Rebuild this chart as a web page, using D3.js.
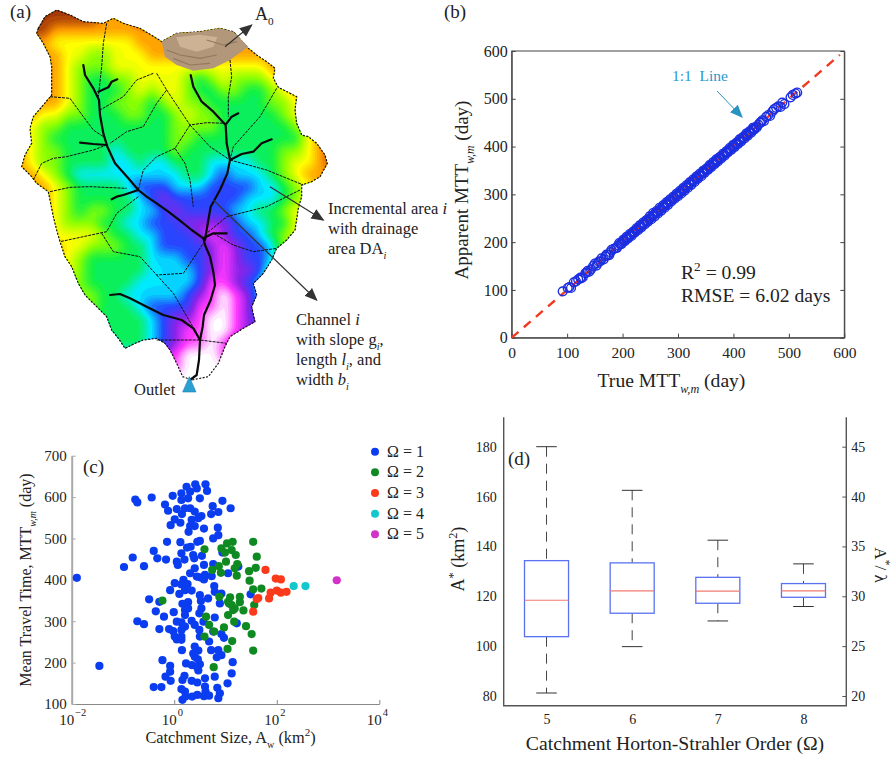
<!DOCTYPE html>
<html>
<head>
<meta charset="utf-8">
<script src="https://d3js.org/d3.v7.min.js"></script>
<style>
  body { margin: 0; background: #fff; }
  svg { display: block; }
  text { font-family: "Liberation Serif", serif; fill: #222; }
  .tick text { font-family: "Liberation Serif", serif; fill: #222; }
</style>
</head>
<body>
<svg id="chart" width="892" height="759"></svg>
<script>
// ---------- panel (a): catchment map, coordinates in map units ----------
const boundary = [[115,85],[135,50],[170,30],[210,45],[250,65],[310,70],[340,55],[370,70],[420,85],[470,115],[485,125],[530,100],[600,95],[660,85],[700,95],[745,145],[770,165],[800,185],[825,205],[820,235],[835,262],[870,280],[890,290],[885,330],[890,370],[905,405],[925,410],[950,430],[975,465],[982,490],[960,530],[935,545],[905,555],[905,590],[895,625],[885,690],[860,720],[830,745],[815,780],[790,820],[760,850],[770,885],[755,920],[765,965],[730,985],[690,1010],[675,1040],[655,1090],[625,1130],[575,1140],[548,1130],[530,1090],[510,1050],[495,1030],[470,1015],[430,1020],[405,1030],[375,1045],[355,1015],[335,990],[320,950],[290,920],[255,885],[235,850],[215,800],[195,770],[180,725],[170,690],[160,650],[150,600],[145,575],[110,550],[95,530],[65,500],[75,465],[95,430],[90,385],[100,350],[130,315],[155,285],[155,240],[155,200],[150,170],[130,130],[110,100]];
const headArea = [[485,125],[530,100],[600,95],[660,85],[700,95],[745,140],[690,180],[640,205],[580,212],[530,195],[495,170]];
const headLight = [[528,112],[600,104],[652,112],[640,140],[590,155],[540,140]];
const headDark = [[[500,150],[540,165],[600,175],[650,165]], [[620,120],[670,135],[710,125]], [[520,175],[570,195],[630,190]]];

// elevation class per grid cell (0 outlet ... 9 ridge), rows 36 map units apart
const elevation = [
  "999999998899888888888888888",
  "999999988899888888888888888",
  "999888888888888888888888888",
  "888777777788888888888888888",
  "888877667778888888888888888",
  "888876667777777777777888888",
  "888876556677776567666788888",
  "888876555676776556655678888",
  "888876556665676655555667888",
  "887766555665567665555567888",
  "776655555555566665555556788",
  "876555555555566555555555789",
  "876655554555565555555566789",
  "876655554454455544445567789",
  "887654444444445543444567888",
  "888765555433344433334456788",
  "888765555543233333344456788",
  "888765665544323333445567777",
  "888766655443332222344557777",
  "888777765544333212334567777",
  "888877666554333321233467777",
  "888876555554443321233467777",
  "777776555554444321223566666",
  "666666555544444311234666666",
  "666666655444443210124666666",
  "666666655543333110124666666",
  "555555555554322100123444444",
  "555555555554321100123444444",
  "555555555554321101233333333",
  "444444444443210001233333333",
  "333333333332110000122222222",
  "111111111110000000011111111",
  "000000000000000000000000000"
];
const elevColors = ["#ffffff","#ff38ff","#8a22e8","#2448ff","#00eaff","#0cf04a","#8cff00","#ffff00","#ff9a00","#a03408"];

const mainChannels = [
  [[570,1140],[590,1125],[597,1080],[600,1020],[608,980],[612,945],[632,900],[645,855],[640,815],[630,770],[615,735],[610,715],[575,690],[540,662],[505,635],[470,610],[440,590],[415,570],[385,535],[345,490],[322,440],[310,400],[300,345],[297,300],[280,265],[255,225],[250,195]],
  [[615,720],[625,660],[632,620],[660,570],[682,520],[690,480],[680,430],[677,375],[640,335],[605,305],[580,260],[572,225]],
  [[600,1020],[580,985],[545,960],[490,945],[440,920],[390,895],[360,882],[330,885]],
  [[295,275],[325,262],[335,245],[352,238]],
  [[320,435],[280,432],[240,428]],
  [[415,570],[370,585],[350,590],[335,598]],
  [[690,480],[725,462],[760,455],[785,430],[815,418]],
  [[680,370],[695,350],[715,340]],
  [[610,715],[640,700],[680,700]]
];
const minorChannels = [
  [[320,70],[310,130],[305,200],[295,290]],
  [[690,180],[695,230],[685,290],[685,350]],
  [[100,540],[125,490],[160,475],[200,470],[280,450],[320,435]],
  [[150,290],[210,295],[250,350],[280,390],[310,410]],
  [[460,220],[410,240],[370,290],[300,330]],
  [[470,220],[500,270],[470,310],[430,380],[380,395],[330,430]],
  [[500,270],[540,330],[570,375],[620,368],[680,370]],
  [[570,375],[525,445],[555,490],[570,540],[580,620]],
  [[570,375],[630,440],[690,480]],
  [[525,445],[470,470],[430,510],[415,570]],
  [[830,265],[780,350],[700,440],[690,480]],
  [[690,480],[800,510],[910,555]],
  [[900,570],[800,620],[680,650],[620,700]],
  [[150,575],[210,562],[270,560],[380,565]],
  [[415,590],[350,640],[320,695],[250,710],[180,725]],
  [[305,700],[340,755],[420,770],[470,825],[550,820],[610,730]],
  [[470,825],[520,880],[590,1000]],
  [[640,700],[700,735],[760,755],[830,745]],
  [[470,1020],[600,1020],[680,1030]]
];

// ---------- panel (b) ----------
const trueMtt = [92,101,104,107,112,116,120,124,128,133,137,140,147,150,153,157,162,166,171,176,180,184,190,194,198,201,204,207,210,213,216,219,222,225,228,231,234,237,240,243,246,249,252,255,258,261,264,267,270,273,276,279,282,285,288,291,294,297,300,303,306,309,312,315,318,321,324,327,330,333,336,339,342,345,348,351,354,357,360,363,366,369,372,375,378,381,384,387,390,393,396,399,402,405,408,411,414,417,420,423,426,429,432,435,438,442,448,452,455,459,463,466,470,473,477,481,485,488,492,503,507,512,515];
const apparentMtt = [97,104,106,104,116,118,122,126,126,135,140,138,150,155,151,159,166,164,174,173,184,186,188,198,196,205,202,211,208,217,213,222,220,229,225,235,231,241,237,246,243,254,248,261,254,265,260,272,266,277,272,283,278,289,285,295,291,301,296,307,302,313,308,319,314,325,320,331,326,337,333,343,338,349,345,354,351,361,357,367,363,373,369,378,375,385,381,390,388,397,393,403,399,408,405,415,411,420,417,427,423,432,429,439,436,440,450,455,453,462,466,464,473,478,481,484,483,492,489,503,508,511,513];
// second batch of catchments, the dense middle of the cloud
const trueMttMid = [125,135,143,155,160,169,174,178,187,192,196,200,203,206,209,212,215,218,221,224,227,230,233,236,239,242,245,248,251,254,257,260,263,266,269,272,275,278,281,284,287,290,293,296,299,302,305,308,311,314,317,320,323,326,329,332,335,338,341,344,347,350,353,356,359,362,365,368,371,374,377,380,383,386,389,392,395,398,401,404,407,410,413,416,419,422,425,428,431,434,437,440,445,450];
const apparentMttMid = [124,136,143,156,160,170,174,179,187,193,196,201,203,207,209,213,215,219,221,225,227,231,233,237,239,243,245,249,251,255,258,261,263,267,269,273,275,279,281,285,287,291,293,297,299,303,305,309,311,315,317,321,323,327,329,333,335,339,341,345,347,351,353,357,359,363,365,369,371,375,377,381,383,387,389,393,395,399,401,405,407,411,413,417,419,423,425,429,431,435,437,441,446,451];

// ---------- panel (c): log10 of catchment size and mean travel time ----------
const order1LogA = [-1.90,-1.46,-.98,-.81,-.59,-.40,-.33,-.16,-.76,-.72,-.44,-.03,-.18,-.12,.05,.01,-.07,.12,.15,.24,.41,.61,.44,.64,.14,.31,.50,.14,.27,.21,.31,.40,.53,.47,.34,.31,.40,.28,.58,.85,.86,.76,.50,.45,-.14,.12,.32,.25,.75,.94,1.10,.86,.72,.14,.37,.54,.39,.20,.05,.07,.58,.76,.40,.31,.44,.50,.60,.73,.58,1.05,1.25,.94,.18,.01,.14,.26,-.08,.21,.34,.10,.78,.79,.92,.50,.52,.66,-.49,-.29,.89,.27,.16,.53,.27,.21,.49,.21,-.36,-.01,-.20,-.72,-.59,.05,.57,.14,.34,.40,.21,.79,-.29,-.10,-.02,.14,.49,.76,.92,.97,.50,.01,.14,.05,.14,.68,1.22,.40,.47,.37,.15,.72,.86,.40,.92,.83,.46,-.23,.23,1.14,.34,-.08,.50,.44,.47,-.08,1.12,-.17,-.07,.20,.16,.34,.45,.60,.79,1.04,-.40,-.25,.14,.21,.60,.61,.84,.89,.86,.35,.45,.58,.68,.16,.22,1.49];
const order1Mtt = [405,192,431,454,433,470,452,449,594,587,599,603,582,567,571,546,532,538,559,625,631,631,621,615,609,613,597,593,597,573,573,565,554,549,545,530,530,516,524,526,508,500,494,492,492,491,480,478,578,591,573,564,559,464,460,458,452,449,444,436,436,438,428,416,408,406,412,409,401,416,432,466,400,392,389,390,375,375,374,366,385,371,367,363,349,355,353,347,343,346,342,331,331,327,319,315,324,322,311,300,293,299,299,297,301,291,287,309,281,281,276,279,279,275,269,260,263,263,263,256,255,251,295,239,229,222,230,230,230,214,218,213,208,206,198,201,194,192,196,190,181,178,174,166,156,168,158,156,152,162,166,150,141,141,136,130,142,130,139,126,114,118,122,119,120,110,118,365];
const order2LogA = [.59,-.23,.88,1.14,1.03,.92,.99,1.12,1.20,1.01,1.23,1.18,1.22,.91,.74,.87,1.54,1.61,1.59,1.46,1.47,1.54,1.70,1.09,1.28,1.05,1.28,1.12,1.18,1.05,1.35,1.56,.62,.68,.78,.97,1.17,1.40,1.51,1.13,1.04,1.54,.59,.77,1.07,1.15];
const order2Mtt = [474,350,359,492,488,476,466,472,460,444,438,428,410,417,424,433,492,456,429,421,398,377,379,358,359,347,346,339,331,315,326,339,311,291,275,285,299,288,269,252,233,229,263,189,343,327];
const order3LogA = [1.78,1.98,2.08,1.64,1.61,1.54,1.85,1.88,2.00,2.08,2.19];
const order3Mtt = [424,403,401,356,354,323,355,369,374,369,371];
const order4LogA = [2.33,2.56];
const order4Mtt = [385,385];
const order5LogA = [3.17];
const order5Mtt = [399];
const orderColors = ["#0a3cf0","#0f8a22","#fa3a1a","#12c8cc","#d232c8"];

// ---------- panel (d) ----------
const orders = [5,6,7,8];
const whiskerHigh = [180,162.5,142.5,133];
const quartile3 = [134.3,133.4,127.6,125.1];
const medians = [118.4,122.2,122.1,122.2];
const quartile1 = [103.8,113.2,117.2,119.6];
const whiskerLow = [81.2,99.8,110.1,115.9];

const svg = d3.select("#chart");

// text with sub/superscript runs: parts are strings or [string, kind]
function label(parent, x, y, parts, size, opts) {
  opts = opts || {};
  const t = parent.append("text").attr("font-size", size)
    .attr("text-anchor", opts.anchor || "start");
  if (opts.rotate) t.attr("transform", `translate(${x},${y}) rotate(${opts.rotate})`);
  else t.attr("x", x).attr("y", y);
  if (opts.fill) t.style("fill", opts.fill);
  let shift = 0;
  parts.forEach(p => {
    const str = typeof p === "string" ? p : p[0];
    const kind = typeof p === "string" ? "" : p[1];
    let target = 0, fs = size, italic = false;
    if (kind.includes("sub")) { target = size * 0.3; fs = size * 0.62; }
    if (kind.includes("sup")) { target = -size * 0.4; fs = size * 0.68; }
    if (kind.includes("it")) italic = true;
    t.append("tspan").attr("dy", target - shift).attr("font-size", fs)
      .attr("font-style", italic ? "italic" : "normal").text(str);
    shift = target;
  });
  return t;
}

function arrowHead(id, color) {
  svg.append("defs").append("marker").attr("id", id)
    .attr("viewBox", "0 0 10 10").attr("refX", 9).attr("refY", 5)
    .attr("markerUnits", "userSpaceOnUse").attr("markerWidth", 13).attr("markerHeight", 13)
    .attr("orient", "auto")
    .append("path").attr("d", "M0,0.8L10,5L0,9.2Z").attr("fill", color);
}
arrowHead("headDark", "#333");
arrowHead("headBlue", "#2a93c0");

// ---------- panel (a) ----------
const mapX = d3.scaleLinear().domain([0, 1320]).range([0, 440]);
const mapY = d3.scaleLinear().domain([0, 1230]).range([0, 410]);
const mapLine = d3.line().x(d => mapX(d[0])).y(d => mapY(d[1]));
const mapClosed = d3.line().x(d => mapX(d[0])).y(d => mapY(d[1])).curve(d3.curveLinearClosed);

const rows = elevation.length, cols = elevation[0].length, k = 4;
const gw = (cols - 1) * k + 1, gh = (rows - 1) * k + 1;
const field = new Float64Array(gw * gh);
const cell = (c, r) => +elevation[r][c];
for (let v = 0; v < gh; v++) {
  for (let u = 0; u < gw; u++) {
    const c = Math.min(Math.floor(u / k), cols - 2), r = Math.min(Math.floor(v / k), rows - 2);
    const fx = u / k - c, fy = v / k - r;
    field[v * gw + u] = cell(c, r) * (1 - fx) * (1 - fy) + cell(c + 1, r) * fx * (1 - fy)
      + cell(c, r + 1) * (1 - fx) * fy + cell(c + 1, r + 1) * fx * fy;
  }
}
d3.blur2({ data: field, width: gw, height: gh }, 1);

const gridX = d3.scaleLinear().domain([0.5, gw - 0.5]).range([mapX(60), mapX(996)]);
const gridY = d3.scaleLinear().domain([0.5, gh - 0.5]).range([mapY(20), mapY(1172)]);
const gridPath = d3.geoPath(d3.geoTransform({
  point: function(x, y) { this.stream.point(gridX(x), gridY(y)); }
}));
const elevScale = d3.scaleLinear().domain(d3.range(10)).range(elevColors);

svg.append("clipPath").attr("id", "catchment").append("path").attr("d", mapClosed(boundary));
const mapG = svg.append("g").attr("clip-path", "url(#catchment)");
mapG.append("rect").attr("width", 440).attr("height", 410).attr("fill", "#fff");
mapG.selectAll("path.band")
  .data(d3.contours().size([gw, gh]).thresholds(d3.range(0.1, 9.05, 0.15))(Array.from(field)))
  .enter().append("path").attr("class", "band")
  .attr("d", gridPath).attr("fill", d => elevScale(d.value));

svg.append("path").attr("d", mapClosed(boundary)).attr("fill", "none")
  .attr("stroke", "#111").attr("stroke-width", 1.2).attr("stroke-dasharray", "2,1.5");
svg.append("path").attr("d", mapClosed(headArea)).attr("fill", "#b2977b");
svg.append("path").attr("d", mapClosed(headLight)).attr("fill", "#cdb394");
svg.selectAll("path.shade").data(headDark).enter().append("path").attr("class", "shade")
  .attr("d", mapLine).attr("fill", "none").attr("stroke", "#94785c").attr("stroke-width", 1.2);

svg.selectAll("path.minor").data(minorChannels).enter().append("path").attr("class", "minor")
  .attr("d", mapLine).attr("fill", "none").attr("stroke", "#111")
  .attr("stroke-width", 1).attr("stroke-dasharray", "3,1");
svg.selectAll("path.main").data(mainChannels).enter().append("path").attr("class", "main")
  .attr("d", mapLine).attr("fill", "none").attr("stroke", "#0a0a0a")
  .attr("stroke-width", 2.2).attr("stroke-linejoin", "round").attr("stroke-linecap", "round");

svg.append("path").attr("d", mapClosed([[568,1130],[588,1176],[548,1176]])).attr("fill", "#2a9fd2")
  .attr("stroke", "#1b7fb0").attr("stroke-width", 0.6);

[[[675,140],[755,75]], [[810,560],[970,660]], [[640,600],[950,900]]].forEach(a => {
  svg.append("path").attr("d", mapLine(a)).attr("fill", "none").attr("stroke", "#333")
    .attr("stroke-width", 1.2).attr("marker-end", "url(#headDark)");
});

label(svg, 10, 18, ["(a)"], 19);
label(svg, 255, 20, ["A", ["0", "sub"]], 18);
label(svg, 328, 214, ["Incremental area ", ["i", "it"]], 16.5);
label(svg, 328, 234, ["with drainage"], 16.5);
label(svg, 328, 254, ["area DA", ["i", "it sub"]], 16.5);
label(svg, 296, 325, ["Channel ", ["i", "it"]], 16.5);
label(svg, 296, 345, ["with slope g", ["i", "it sub"], ","], 16.5);
label(svg, 296, 365, ["length ", ["l", "it"], ["i", "it sub"], ", and"], 16.5);
label(svg, 296, 385, ["width ", ["b", "it"], ["i", "it sub"]], 16.5);
label(svg, 134, 395, ["Outlet"], 16.5);

// ---------- panel (b) ----------
const bx = d3.scaleLinear().domain([0, 600]).range([511.7, 844.3]);
const by = d3.scaleLinear().domain([0, 600]).range([337.7, 51]);
const gb = svg.append("g");
gb.append("rect").attr("x", bx(0)).attr("y", by(600)).attr("width", bx(600) - bx(0))
  .attr("height", by(0) - by(600)).attr("fill", "none").attr("stroke", "#444").attr("stroke-width", 1);

const styleAxis = (g, color) => {
  g.select(".domain").attr("stroke", color);
  g.selectAll(".tick line").attr("stroke", color);
};
gb.append("g").attr("transform", `translate(0,${by(0)})`)
  .call(d3.axisBottom(bx).tickValues(d3.range(0, 601, 100)).tickFormat(d3.format("d")).tickSizeInner(-4).tickSizeOuter(0).tickPadding(9))
  .call(styleAxis, "#444").selectAll("text").attr("font-size", 15.5);
gb.append("g").attr("transform", `translate(${bx(0)},0)`)
  .call(d3.axisLeft(by).tickValues(d3.range(0, 601, 100)).tickFormat(d3.format("d")).tickSizeInner(-4).tickSizeOuter(0).tickPadding(4))
  .call(styleAxis, "#444").selectAll("text").attr("font-size", 16);
gb.append("g").attr("transform", `translate(${bx(600)},0)`)
  .call(d3.axisRight(by).tickValues(d3.range(0, 601, 100)).tickFormat("").tickSizeInner(-4).tickSizeOuter(0))
  .call(styleAxis, "#444");

gb.append("path").attr("d", d3.line().x(d => bx(d)).y(d => by(d))([0, 592]))
  .attr("stroke", "#f03a22").attr("stroke-width", 2.4).attr("stroke-dasharray", "9,7").attr("fill", "none");
const drawPoints = (xs, ys) => gb.append("g").selectAll("circle").data(xs).enter().append("circle")
  .attr("cx", d => bx(d)).attr("cy", (d, i) => by(ys[i])).attr("r", 4.4)
  .attr("fill", "none").attr("stroke", "#1c2ee0").attr("stroke-width", 1.4);
drawPoints(trueMtt, apparentMtt);
drawPoints(trueMttMid, apparentMttMid);

label(gb, 672, 81, ["1:1\u00a0\u00a0Line"], 15.5, { fill: "#2a97cc" });
gb.append("path").attr("d", d3.line()([[717, 91], [742, 117]])).attr("stroke", "#2a93c0")
  .attr("stroke-width", 1).attr("fill", "none").attr("marker-end", "url(#headBlue)");
label(gb, 681, 279, ["R", ["2", "sup"], " = 0.99"], 19.6);
label(gb, 681, 302, ["RMSE = 6.02 days"], 19.6);
label(gb, 444, 18, ["(b)"], 19);
label(gb, 671.5, 387, ["True MTT", ["w,m", "it sub"], " (day)"], 19.6, { anchor: "middle" });
label(gb, 468, 190, ["Apparent MTT", ["w,m", "it sub"], " (day)"], 19, { anchor: "middle", rotate: -90 });

// ---------- panel (c) ----------
const cx = d3.scaleLog().domain([1e-2, 1e4]).range([71.7, 379.3]);
const cy = d3.scaleLinear().domain([100, 700]).range([704, 455.7]);
const gc = svg.append("g");
const decades = [-2, 0, 2, 4];
gc.append("g").attr("transform", "translate(0,704)")
  .call(d3.axisBottom(cx).tickValues(decades.map(d => Math.pow(10, d))).tickFormat("").tickSizeInner(-4).tickSizeOuter(0))
  .call(styleAxis, "#888");
gc.append("g").attr("transform", "translate(71.7,0)")
  .call(d3.axisLeft(cy).tickValues(d3.range(100, 701, 100)).tickFormat(d3.format("d")).tickSizeInner(-4).tickSizeOuter(0).tickPadding(5))
  .call(styleAxis, "#aaa").call(g => g.select(".domain").attr("stroke-width", 2))
  .selectAll("text").attr("font-size", 15);
decades.forEach(d => {
  label(gc, cx(Math.pow(10, d)) + 2.5, 725, ["10"], 15, { anchor: "end" });
  label(gc, cx(Math.pow(10, d)) + 3.5, 716, [d < 0 ? "\u2212" + (-d) : String(d)], 10.5);
});

[[order1LogA, order1Mtt], [order2LogA, order2Mtt], [order3LogA, order3Mtt], [order4LogA, order4Mtt], [order5LogA, order5Mtt]]
  .forEach((s, j) => {
    gc.append("g").selectAll("circle").data(s[0]).enter().append("circle")
      .attr("cx", d => cx(Math.pow(10, d))).attr("cy", (d, i) => cy(s[1][i]))
      .attr("r", 4.1).attr("fill", orderColors[j]);
  });

const legendY = d3.scalePoint().domain([1, 2, 3, 4, 5]).range([451.7, 534.3]);
legendY.domain().forEach(o => {
  gc.append("circle").attr("cx", 375).attr("cy", legendY(o)).attr("r", 4).attr("fill", orderColors[o - 1]);
  label(gc, 387, legendY(o) + 5, ["\u03a9 = " + o], 16);
});
label(gc, 83, 473, ["(c)"], 19);
label(gc, 230.5, 743, ["Catchment Size, A", ["w", "sub"], " (km", ["2", "sup"], ")"], 16.3, { anchor: "middle" });
label(gc, 31, 580, ["Mean Travel Time, MTT", ["w,m", "it sub"], " (day)"], 16, { anchor: "middle", rotate: -90 });

// ---------- panel (d) ----------
const dx = d3.scaleLinear().domain([4.5, 8.5]).range([503.7, 846.3]);
const dy = d3.scaleLinear().domain([80, 180]).range([696, 446.7]);
const dyRight = d3.scaleLinear().domain([20, 45]).range([696, 446.7]);
const gd = svg.append("g");
gd.append("path").attr("d", `M503.7,417.3V705.7H846.3V417.3`).attr("fill", "none").attr("stroke", "#555").attr("stroke-width", 1.4);
gd.append("g").attr("transform", "translate(503.7,0)")
  .call(d3.axisLeft(dy).tickValues(d3.range(80, 181, 20)).tickFormat(d3.format("d")).tickSizeInner(0).tickSizeOuter(0).tickPadding(7))
  .call(g => g.select(".domain").remove()).selectAll("text").attr("font-size", 14);
gd.append("g").attr("transform", "translate(846.3,0)")
  .call(d3.axisRight(dyRight).tickValues(d3.range(20, 46, 5)).tickFormat(d3.format("d")).tickSizeInner(-4).tickSizeOuter(0).tickPadding(5))
  .call(styleAxis, "#555").call(g => g.select(".domain").remove()).selectAll("text").attr("font-size", 14);
gd.append("g").attr("transform", "translate(0,705.7)")
  .call(d3.axisBottom(dx).tickValues(orders).tickFormat(d3.format("d")).tickSize(0).tickPadding(8))
  .call(g => g.select(".domain").remove()).selectAll("text").attr("font-size", 14);

const boxHalf = 0.257, capHalf = 0.12;
orders.forEach((o, i) => {
  gd.append("line").attr("x1", dx(o)).attr("x2", dx(o)).attr("y1", dy(whiskerHigh[i])).attr("y2", dy(quartile3[i]))
    .attr("stroke", "#444").attr("stroke-width", 1).attr("stroke-dasharray", "10,7");
  gd.append("line").attr("x1", dx(o)).attr("x2", dx(o)).attr("y1", dy(quartile1[i])).attr("y2", dy(whiskerLow[i]))
    .attr("stroke", "#444").attr("stroke-width", 1).attr("stroke-dasharray", "10,7");
  [whiskerHigh[i], whiskerLow[i]].forEach(v => {
    gd.append("line").attr("x1", dx(o - capHalf)).attr("x2", dx(o + capHalf)).attr("y1", dy(v)).attr("y2", dy(v))
      .attr("stroke", "#333").attr("stroke-width", 1);
  });
  gd.append("rect").attr("x", dx(o - boxHalf)).attr("y", dy(quartile3[i]))
    .attr("width", dx(o + boxHalf) - dx(o - boxHalf)).attr("height", dy(quartile1[i]) - dy(quartile3[i]))
    .attr("fill", "#fff").attr("stroke", "#5a72f2").attr("stroke-width", 1.3);
  gd.append("line").attr("x1", dx(o - boxHalf)).attr("x2", dx(o + boxHalf)).attr("y1", dy(medians[i])).attr("y2", dy(medians[i]))
    .attr("stroke", "#f07a70").attr("stroke-width", 1.2);
});
label(gd, 508, 465, ["(d)"], 19);
label(gd, 675, 750, ["Catchment Horton-Strahler Order (\u03a9)"], 19.7, { anchor: "middle" });
label(gd, 464, 559, ["A", ["*", "sup"], " (km", ["2", "sup"], ")"], 18, { anchor: "middle", rotate: -90 });
label(gd, 875, 565, ["A", ["*", "sup"], "/ \u03bb"], 17, { anchor: "middle", rotate: 90 });
</script>
</body>
</html>
